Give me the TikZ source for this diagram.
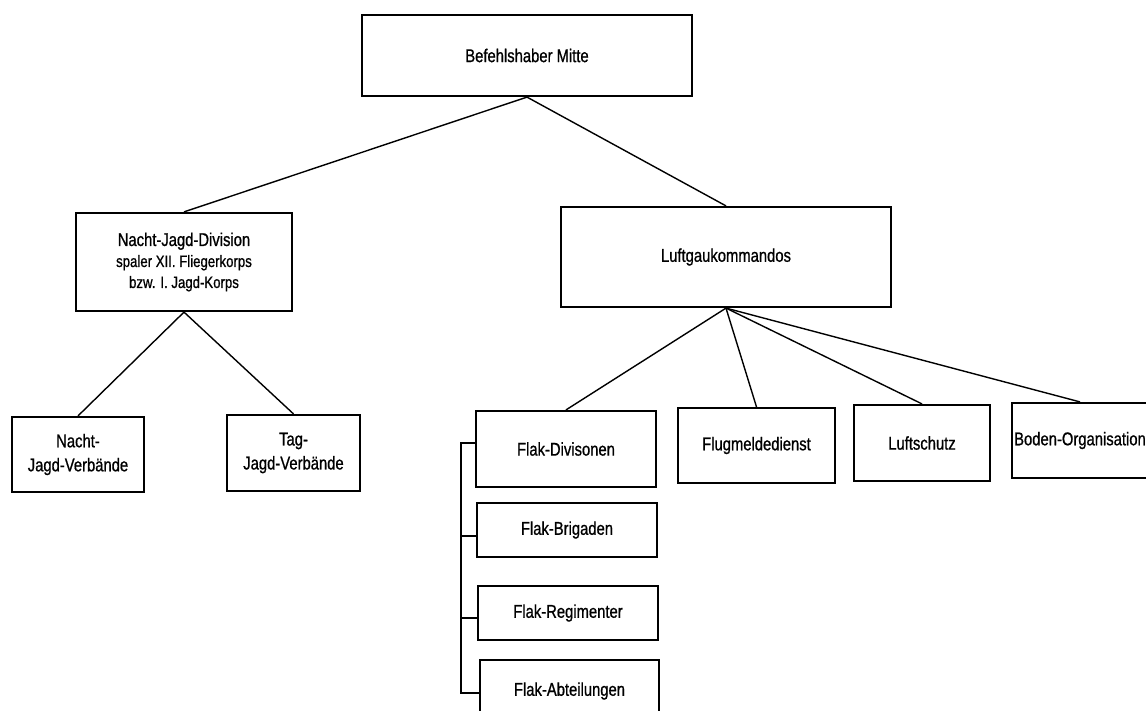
\documentclass[tikz,border=0pt]{standalone}
\usepackage{fontspec}
\setmainfont{Liberation Sans}[FakeStretch=0.8,FakeBold=0.8]
\begin{document}
\begin{tikzpicture}[x=1pt,y=-1pt,
  box/.style={draw,line width=2.2pt,inner sep=0pt,align=center,font=\fontsize{18.5}{24}\selectfont},
  link/.style={line width=1.4pt}]
\useasboundingbox (0,0) rectangle (1146,710);
\node[box,minimum width=330,minimum height=81] (top) at (527,55.5) {Befehlshaber Mitte};
\node[box,minimum width=216,minimum height=98] (njd) at (184,262)
  {Nacht-Jagd-Division\\[-3pt]{\fontsize{16.5}{20}\selectfont spaler XII. Fliegerkorps}\\[-3pt]{\fontsize{16.5}{20}\selectfont bzw. I. Jagd-Korps}};
\node[box,minimum width=330,minimum height=100] (luft) at (726,257) {Luftgaukommandos};
\node[box,minimum width=132,minimum height=75] (njv) at (78,454.5) {Nacht-\\Jagd-Verbände};
\node[box,minimum width=133,minimum height=76] (tjv) at (293.5,453) {Tag-\\Jagd-Verbände};
\node[box,minimum width=180,minimum height=76] (fdiv) at (566,449) {Flak-Divisonen};
\node[box,minimum width=180,minimum height=54] (fbrig) at (567,530) {Flak-Brigaden};
\node[box,minimum width=180,minimum height=54] (freg) at (568,613) {Flak-Regimenter};
\node[box,minimum width=179,minimum height=62] (fabt) at (569.5,691) {Flak-Abteilungen};
\node[box,minimum width=157,minimum height=75] (flug) at (756.5,445.5) {Flugmeldedienst};
\node[box,minimum width=136,minimum height=76] (lschutz) at (922,443) {Luftschutz};
\node[box,minimum width=136,minimum height=75] (boden) at (1080,440.5) {Boden-Organisation};
\coordinate (bus) at (461,0);
\draw[link] (top.south) -- (njd.north);
\draw[link] (top.south) -- (luft.north);
\draw[link] (njd.south) -- (njv.north);
\draw[link] (njd.south) -- (tjv.north);
\draw[link] (luft.south) -- (fdiv.north);
\draw[link] (luft.south) -- (flug.north);
\draw[link] (luft.south) -- (lschutz.north);
\draw[link] (luft.south) -- (boden.north);
\draw[link] ([yshift=6pt]fdiv.west) -- ([yshift=6pt]fdiv.west -| bus) -- ([yshift=-2pt]fabt.west -| bus) -- ([yshift=-2pt]fabt.west);
\draw[link] ([yshift=-6pt]fbrig.west) -- ([yshift=-6pt]fbrig.west -| bus);
\draw[link] ([yshift=-5pt]freg.west) -- ([yshift=-5pt]freg.west -| bus);
\end{tikzpicture}
\end{document}
